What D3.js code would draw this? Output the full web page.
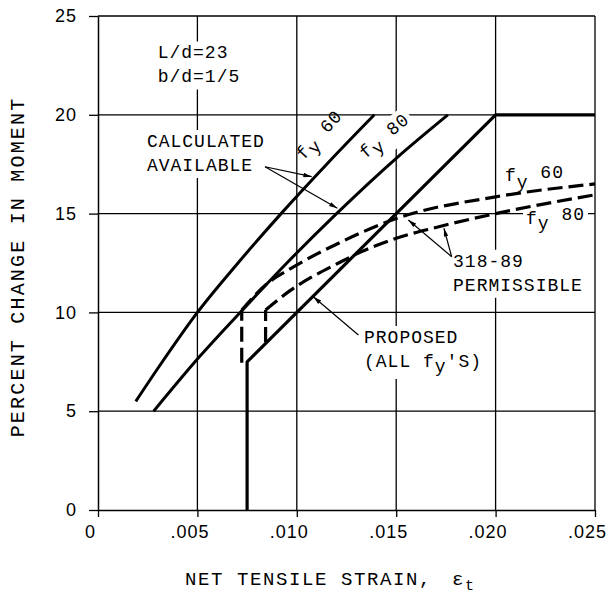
<!DOCTYPE html>
<html>
<head>
<meta charset="utf-8">
<script src="https://cdn.jsdelivr.net/npm/d3@7"></script>
<style>
  body { margin: 0; background: #fff; }
  svg { display: block; font-family: "Liberation Mono", "DejaVu Sans Mono", monospace; }
  .tick line { stroke: #000; stroke-width: 1.3; }
  .domain { stroke: #000; stroke-width: 1.5; }
</style>
</head>
<body>
<script>
// Axis ticks
const xTickValues = [0, 0.005, 0.01, 0.015, 0.02, 0.025];
const xTickLabels = ["0", ".005", ".010", ".015", ".020", ".025"];
const yTickValues = [0, 5, 10, 15, 20, 25];

// Calculated available, fy 60 and fy 80
const fy60CalcStrain = [0.0019, 0.0031, 0.005, 0.007, 0.0093, 0.0116, 0.0139];
const fy60CalcPct = [5.5, 7.3, 10.0, 12.45, 15.1, 17.6, 20.0];
const fy80CalcStrain = [0.0028, 0.0051, 0.0072, 0.0095, 0.012, 0.015, 0.0176];
const fy80CalcPct = [5.0, 7.75, 10.05, 12.5, 15.0, 17.8, 20.0];

// Proposed (all fy's)
const proposedStrain = [0.0075, 0.0075, 0.02, 0.025];
const proposedPct = [0, 7.5, 20, 20];

// 318-89 permissible, fy 60 and fy 80 (first two points are the vertical drop)
const fy60PermStrain = [0.00723, 0.00723, 0.0085, 0.00966, 0.0122, 0.015, 0.02, 0.025];
const fy60PermPct = [7.45, 10.12, 11.45, 12.2, 13.55, 14.75, 15.85, 16.5];
const fy80PermStrain = [0.00843, 0.00843, 0.00966, 0.0122, 0.0132, 0.015, 0.017, 0.02, 0.025];
const fy80PermPct = [8.5, 10.12, 11.1, 12.55, 13.05, 13.75, 14.3, 15.0, 15.95];

let width = 611;
let height = 597;

let svg = d3
  .select("body")
  .append("svg")
  .attr("width", width)
  .attr("height", height);

let x = d3.scaleLinear().domain([0, 0.025]).range([98, 595]);
let y = d3.scaleLinear().domain([0, 25]).range([510, 16]);

// Layers: grid, knockouts behind labels, curves, labels
let gridG = svg.append("g");
let knockG = svg.append("g");
let curveG = svg.append("g");
let labelG = svg.append("g");

// Grid lines (including top and right border)
gridG
  .selectAll(".vgrid")
  .data(xTickValues.slice(1))
  .enter()
  .append("line")
  .attr("x1", (d) => x(d))
  .attr("x2", (d) => x(d))
  .attr("y1", y(0))
  .attr("y2", y(25))
  .attr("stroke", "#000")
  .attr("stroke-width", 1.3);

gridG
  .selectAll(".hgrid")
  .data(yTickValues.slice(1))
  .enter()
  .append("line")
  .attr("x1", x(0))
  .attr("x2", x(0.025))
  .attr("y1", (d) => y(d))
  .attr("y2", (d) => y(d))
  .attr("stroke", "#000")
  .attr("stroke-width", 1.3);

// Axes
let xAxis = d3
  .axisBottom(x)
  .tickValues(xTickValues)
  .tickFormat((d, i) => xTickLabels[i])
  .tickSize(7)
  .tickSizeOuter(0)
  .tickPadding(8);

let yAxis = d3
  .axisLeft(y)
  .tickValues(yTickValues)
  .tickFormat(d3.format("d"))
  .tickSize(9)
  .tickSizeOuter(0)
  .tickPadding(12);

let xAxisG = svg
  .append("g")
  .attr("transform", "translate(0," + y(0) + ")")
  .call(xAxis);
xAxisG
  .selectAll("text")
  .attr("x", -8)
  .attr("fill", "#000")
  .style("font-size", "18px")
  .style("letter-spacing", "1px")
  .style("font-family", "inherit");

let yAxisG = svg
  .append("g")
  .attr("transform", "translate(" + x(0) + ",0)")
  .call(yAxis);
yAxisG
  .selectAll("text")
  .attr("fill", "#000")
  .style("font-size", "18px")
  .style("letter-spacing", "1px")
  .style("font-family", "inherit");

// Axis titles
svg
  .append("text")
  .attr("transform", "translate(24," + y(12.3) + ") rotate(-90)")
  .attr("text-anchor", "middle")
  .style("font-size", "20px")
  .style("letter-spacing", "2.2px")
  .text("PERCENT CHANGE IN MOMENT");

let xTitle = svg
  .append("text")
  .attr("x", 185)
  .attr("y", 585)
  .style("font-size", "19px")
  .style("letter-spacing", "1.6px");
xTitle.append("tspan").text("NET TENSILE STRAIN,");
xTitle.append("tspan").attr("dx", 20).text("ε");
xTitle.append("tspan").attr("dy", 5).style("font-size", "15px").text("t");

// Curves
let smooth = d3
  .line()
  .x((d) => x(d[0]))
  .y((d) => y(d[1]))
  .curve(d3.curveMonotoneX);
let straight = d3
  .line()
  .x((d) => x(d[0]))
  .y((d) => y(d[1]));

function pts(xs, ys) {
  return xs.map((v, i) => [v, ys[i]]);
}

function drawPath(d, dashed, w) {
  curveG
    .append("path")
    .attr("d", d)
    .attr("fill", "none")
    .attr("stroke", "#000")
    .attr("stroke-width", w)
    .attr("stroke-linejoin", "round")
    .attr("stroke-dasharray", dashed ? "15,6" : null);
}

drawPath(smooth(pts(fy60CalcStrain, fy60CalcPct)), false, 3);
drawPath(smooth(pts(fy80CalcStrain, fy80CalcPct)), false, 3);
drawPath(straight(pts(proposedStrain, proposedPct)), false, 3.2);

[
  pts(fy60PermStrain, fy60PermPct),
  pts(fy80PermStrain, fy80PermPct)
].forEach((p) => {
  drawPath(straight(p.slice(0, 2)), true, 3.2);
  drawPath(smooth(p.slice(1)), true, 3.2);
});

// Arrow marker
svg
  .append("defs")
  .append("marker")
  .attr("id", "arrow")
  .attr("viewBox", "0 0 10 6")
  .attr("refX", 10)
  .attr("refY", 3)
  .attr("markerWidth", 9)
  .attr("markerHeight", 5)
  .attr("markerUnits", "userSpaceOnUse")
  .attr("orient", "auto")
  .append("path")
  .attr("d", "M0,0.3 L10,3 L0,5.7 Z")
  .attr("fill", "#000");

function arrow(from, to) {
  labelG
    .append("line")
    .attr("x1", x(from[0]))
    .attr("y1", y(from[1]))
    .attr("x2", x(to[0]))
    .attr("y2", y(to[1]))
    .attr("stroke", "#000")
    .attr("stroke-width", 1.2)
    .attr("marker-end", "url(#arrow)");
}

// Text block; knocked out of the grid when asked
function block(pos, lines, opts) {
  opts = opts || {};
  let tr =
    "translate(" + x(pos[0]) + "," + y(pos[1]) + ")" +
    (opts.rotate ? " rotate(" + opts.rotate + ")" : "");
  let g = labelG.append("g").attr("transform", tr);
  lines.forEach((parts, i) => {
    let t = g
      .append("text")
      .attr("y", i * 24)
      .attr("text-anchor", opts.anchor || "start")
      .attr("dy", opts.dy || 0)
      .style("font-size", "18px")
      .style("letter-spacing", "1px");
    parts.forEach((p) => {
      t.append("tspan")
        .attr("dy", p.dy || 0)
        .attr("dx", p.dx || 0)
        .text(p.t);
    });
  });
  if (opts.knock) {
    let b = g.node().getBBox();
    knockG
      .append("rect")
      .attr("transform", tr)
      .attr("x", b.x - 3)
      .attr("y", b.y - 2)
      .attr("width", b.width + 6)
      .attr("height", b.height + 4)
      .attr("fill", "#fff");
  }
}

block([0.003, 22.85], [[{ t: "L/d=23" }], [{ t: "b/d=1/5" }]], { knock: true });

block([0.00246, 18.37], [[{ t: "CALCULATED" }], [{ t: "AVAILABLE" }]], { knock: true });
arrow([0.0084, 17.37], [0.01075, 16.87]);
arrow([0.0084, 17.37], [0.01204, 15.27]);

block([0.01134, 18.8], [[{ t: "f" }, { t: "y", dy: 5 }, { t: " 60", dy: -5 }]], {
  rotate: -48,
  anchor: "middle",
  dy: "0.35em"
});
block([0.01459, 18.72], [[{ t: "f" }, { t: "y", dy: 5 }, { t: " 80", dy: -5 }]], {
  rotate: -40,
  anchor: "middle",
  dy: "0.35em",
  knock: true
});

block([0.02047, 16.65], [[{ t: "f" }, { t: "y", dy: 7 }, { t: " 60", dy: -10 }]]);
block([0.02153, 14.47], [[{ t: "f" }, { t: "y", dy: 5 }, { t: " 80", dy: -9 }]], { knock: true });

block([0.01786, 12.31], [[{ t: "318-89" }], [{ t: "PERMISSIBLE" }]], { knock: true });
arrow([0.01779, 12.82], [0.01561, 14.68]);
arrow([0.01779, 12.82], [0.0174, 14.26]);

block([0.01338, 8.45], [[{ t: "PROPOSED" }], [{ t: "(ALL f" }, { t: "y", dy: 5 }, { t: "'S)", dy: -5 }]], {
  knock: true
});
arrow([0.0131, 8.86], [0.01083, 10.79]);
</script>
</body>
</html>
